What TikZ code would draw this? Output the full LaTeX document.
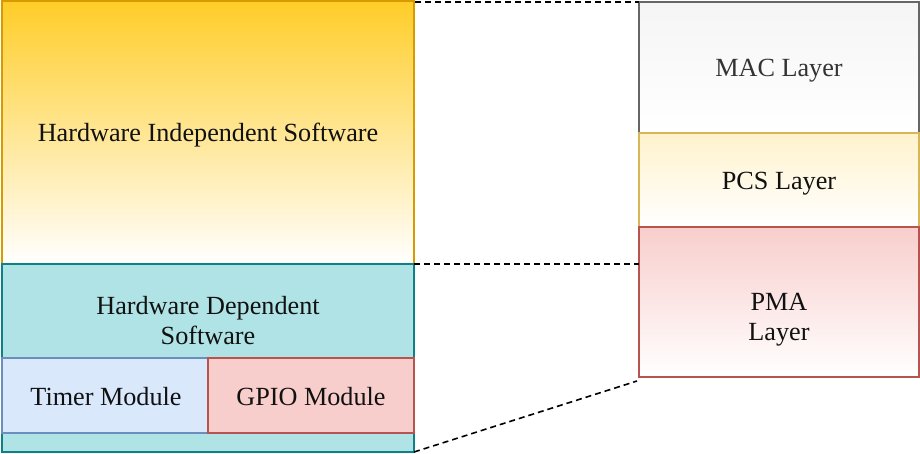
\documentclass[tikz,border=0pt]{standalone}
\usepackage{fontspec}
\setmainfont{Liberation Serif}
\definecolor{indepTop}{HTML}{FFCD28}
\definecolor{indepLine}{HTML}{D79B00}
\definecolor{depFill}{HTML}{B0E3E6}
\definecolor{depLine}{HTML}{0E8088}
\definecolor{blueFill}{HTML}{DAE8FC}
\definecolor{blueLine}{HTML}{6C8EBF}
\definecolor{redFill}{HTML}{F8CECC}
\definecolor{redLine}{HTML}{B85450}
\definecolor{greyFill}{HTML}{F5F5F5}
\definecolor{greyLine}{HTML}{666666}
\definecolor{greyText}{HTML}{333333}
\definecolor{yellowFill}{HTML}{FFF2CC}
\definecolor{yellowLine}{HTML}{D6B656}
\definecolor{ink}{HTML}{111111}
\begin{document}
\begin{tikzpicture}[x=1pt,y=-1pt,
  block/.style={rectangle, inner sep=0pt, outer sep=0pt, anchor=north west, line width=1.4pt},
  caption/.style={text=ink, font=\fontsize{26.2}{30}\selectfont, align=center, inner sep=0pt},
  zoomline/.style={line width=1.6pt, dash pattern=on 6pt off 4pt, black}
]
\useasboundingbox (0,0) rectangle (920,453);

% software stack on the left
\node[block, draw=indepLine, top color=indepTop, bottom color=white,
      minimum width=412pt, minimum height=263pt] (indep) at (2,1) {};
\node[block, draw=depLine, fill=depFill,
      minimum width=412pt, minimum height=188pt] (dep) at (2,264) {};
\node[block, draw=blueLine, fill=blueFill,
      minimum width=206pt, minimum height=75pt] (timer) at (2,358) {};
\node[block, draw=redLine, fill=redFill,
      minimum width=206pt, minimum height=75pt] (gpio) at (208,358) {};

\node[caption] (indepText) at (208,135) {Hardware Independent Software};
\node[caption] (depText) at (208,321) {Hardware Dependent\\Software};
\node[caption] (timerText) at (106,397) {Timer Module};
\node[caption] (gpioText) at (311,397) {GPIO Module};

% protocol layers on the right
\node[block, draw=greyLine, top color=greyFill, bottom color=white,
      minimum width=280pt, minimum height=131pt] (mac) at (639,2) {};
\node[block, draw=yellowLine, top color=yellowFill, bottom color=white,
      minimum width=280pt, minimum height=94pt] (pcs) at (639,133) {};
\node[block, draw=redLine, top color=redFill, bottom color=white,
      minimum width=280pt, minimum height=150pt] (pma) at (639,227) {};

\node[caption, text=greyText] (macText) at (779,71) {MAC Layer};
\node[caption] (pcsText) at (779,184) {PCS Layer};
\node[caption] (pmaText) at (779,320) {PMA\\Layer};

% zoom guides
\coordinate (topStart) at (415,2);
\coordinate (midEnd) at (639,264);
\coordinate (lowEnd) at (637,381);
\draw[zoomline] (topStart) -- (mac.north west);
\draw[zoomline] (indep.south east) -- (midEnd);
\draw[zoomline] (dep.south east) -- (lowEnd);
\end{tikzpicture}
\end{document}
